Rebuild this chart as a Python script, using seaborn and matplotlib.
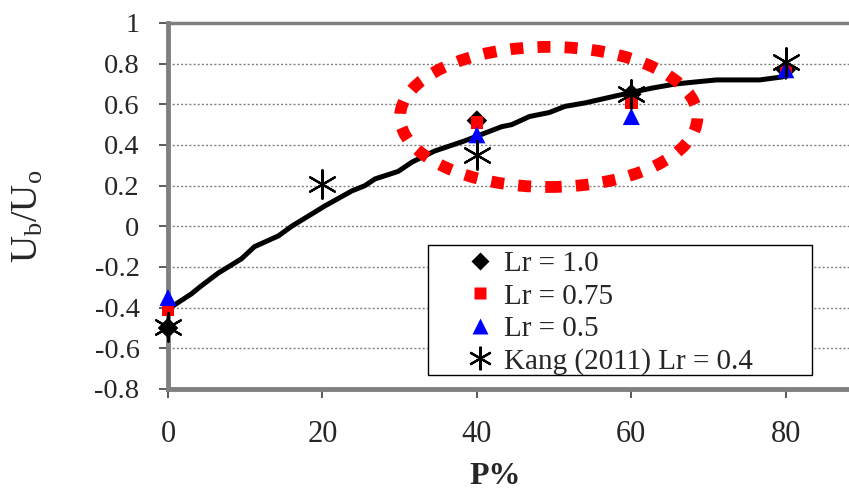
import matplotlib
matplotlib.use("Agg")
import matplotlib.pyplot as plt
from matplotlib.patches import Ellipse, Rectangle
from matplotlib.lines import Line2D
import seaborn as sns
import pandas as pd

# ---- data ----
curve_p = [0, 3, 4.3, 6.5, 9.5, 11.2, 14.3, 16, 20.3, 23.8, 25.5, 26.8, 29.8, 31.6,
           34.5, 38.4, 43.2, 44.5, 46.8, 49.4, 51.4, 54, 56.2, 59.7, 62.7, 65.7,
           68.3, 71, 76.6, 79.6]
curve_u = [-0.407, -0.333, -0.293, -0.23, -0.16, -0.10, -0.047, 0.0, 0.10, 0.174,
           0.20, 0.233, 0.27, 0.316, 0.37, 0.42, 0.49, 0.50, 0.54, 0.56, 0.59,
           0.607, 0.626, 0.656, 0.68, 0.70, 0.71, 0.72, 0.72, 0.735]

p_lr10 = [0, 40, 60, 80]
u_lr10 = [-0.50, 0.52, 0.65, 0.77]
p_lr075 = [0, 40, 60, 80]
u_lr075 = [-0.41, 0.51, 0.61, 0.77]
p_lr05 = [0, 40, 60, 80]
u_lr05 = [-0.35, 0.45, 0.54, 0.77]
p_kang = [0, 20, 40, 60, 80]
u_kang = [-0.495, 0.21, 0.35, 0.65, 0.81]

labels = ["Lr = 1.0", "Lr = 0.75", "Lr = 0.5", "Kang (2011) Lr = 0.4"]
yticks = [-0.8, -0.6, -0.4, -0.2, 0, 0.2, 0.4, 0.6, 0.8, 1]
ytick_labels = ["-0.8", "-0.6", "-0.4", "-0.2", "0", "0.2", "0.4", "0.6", "0.8", "1"]
xticks = [0, 20, 40, 60, 80]

sns.set_style("white")
plt.rcParams["font.family"] = ["Liberation Serif", "DejaVu Serif"]
plt.rcParams["mathtext.fontset"] = "custom"
plt.rcParams["mathtext.rm"] = "Liberation Serif"
plt.rcParams["mathtext.it"] = "Liberation Serif:italic"

W, H = 849, 496
fig = plt.figure(figsize=(W / 100, H / 100), dpi=100)
left, right, top, bottom = 168, 863, 23, 389
ax = fig.add_axes([left / W, (H - bottom) / H, (right - left) / W, (bottom - top) / H])

curve = pd.DataFrame({"P": curve_p, "U": curve_u})
sns.lineplot(data=curve, x="P", y="U", sort=False, estimator=None, color="black",
             linewidth=3.6, ax=ax, zorder=3)

series = [
    (p_lr10, u_lr10, labels[0], "D", "black", 110, None),
    (p_lr075, u_lr075, labels[1], "s", "#ff0000", 80, None),
    (p_lr05, u_lr05, labels[2], "^", "#0000ff", 150, None),
    (p_kang, u_kang, labels[3], (6, 2, 0), "black", 420, 1.6),
]
handles = []
for px, pu, lab, mk, col, sz, lw in series:
    df = pd.DataFrame({"P": px, "U": pu})
    if lw is None:
        sns.scatterplot(data=df, x="P", y="U", marker=mk, color=col, s=sz,
                        edgecolor="none", ax=ax, zorder=4, legend=False, clip_on=False)
        handles.append(Line2D([], [], linestyle="none", marker=mk, color=col,
                              markeredgecolor="none", markersize=sz ** 0.5 * 0.9, label=lab))
    else:
        sns.scatterplot(data=df, x="P", y="U", marker=mk, color=col, s=sz,
                        linewidth=lw, ax=ax, zorder=5, legend=False, clip_on=False)
        handles.append(Line2D([], [], linestyle="none", marker=mk, color=col,
                              markeredgewidth=lw, markersize=17, label=lab))

ell = Ellipse((49.3, 0.538), 38.5, 0.689, fill=False, edgecolor="#ff0000",
              linewidth=8.5, linestyle=(0, (1.1, 1.2)), zorder=6)
ax.add_patch(ell)

ax.set_xlim(0, 90)
ax.set_ylim(-0.8, 1.0)
ax.set_xticks(xticks)
ax.set_xticklabels([str(t) for t in xticks], fontsize=22)
ax.set_yticks(yticks)
ax.set_yticklabels(ytick_labels, fontsize=20.5)
ax.yaxis.grid(True, linestyle=(0, (1.5, 1.5)), color="#808080", linewidth=1.0)
ax.xaxis.grid(False)
ax.set_axisbelow(True)

for s in ["left", "bottom"]:
    ax.spines[s].set_color("#808080")
    ax.spines[s].set_linewidth(3.5)
ax.spines["top"].set_color("#808080")
ax.spines["top"].set_linewidth(2.5)
ax.spines["right"].set_visible(False)
ax.tick_params(axis="both", direction="out", length=6.5, width=1.2, color="#404040",
               left=True, bottom=True)
ax.tick_params(axis="y", pad=14)
ax.tick_params(axis="x", pad=16)

ax.set_xlabel("P%", fontsize=23, fontweight="bold")
ax.xaxis.set_label_coords((495 - left) / (right - left), -(476 - bottom) / (bottom - top))
ax.xaxis.label.set_verticalalignment("center")
ax.set_ylabel(r"U$_{\mathrm{b}}$/U$_{\mathrm{o}}$", fontsize=27)
ax.yaxis.set_label_coords(-(168 - 28) / (right - left), (bottom - 216) / (bottom - top))
ax.yaxis.label.set_verticalalignment("center")

# legend frame (box of the legend)
frame = Rectangle((428 / W, (H - 375) / H), (812 - 428) / W, (375 - 245) / H,
                  transform=fig.transFigure, facecolor="white", edgecolor="black",
                  linewidth=1.0, zorder=9)
ax.add_artist(frame)
frame.set_clip_on(False)

leg = ax.legend(handles=handles, loc="upper left",
                bbox_to_anchor=(465 / W, (H - 251) / H), bbox_transform=fig.transFigure,
                fontsize=21, frameon=False, handlelength=1.0, handletextpad=0.32,
                labelspacing=0.2, borderpad=0, borderaxespad=0)
leg.set_zorder(10)

fig.savefig("out.png", dpi=100)
